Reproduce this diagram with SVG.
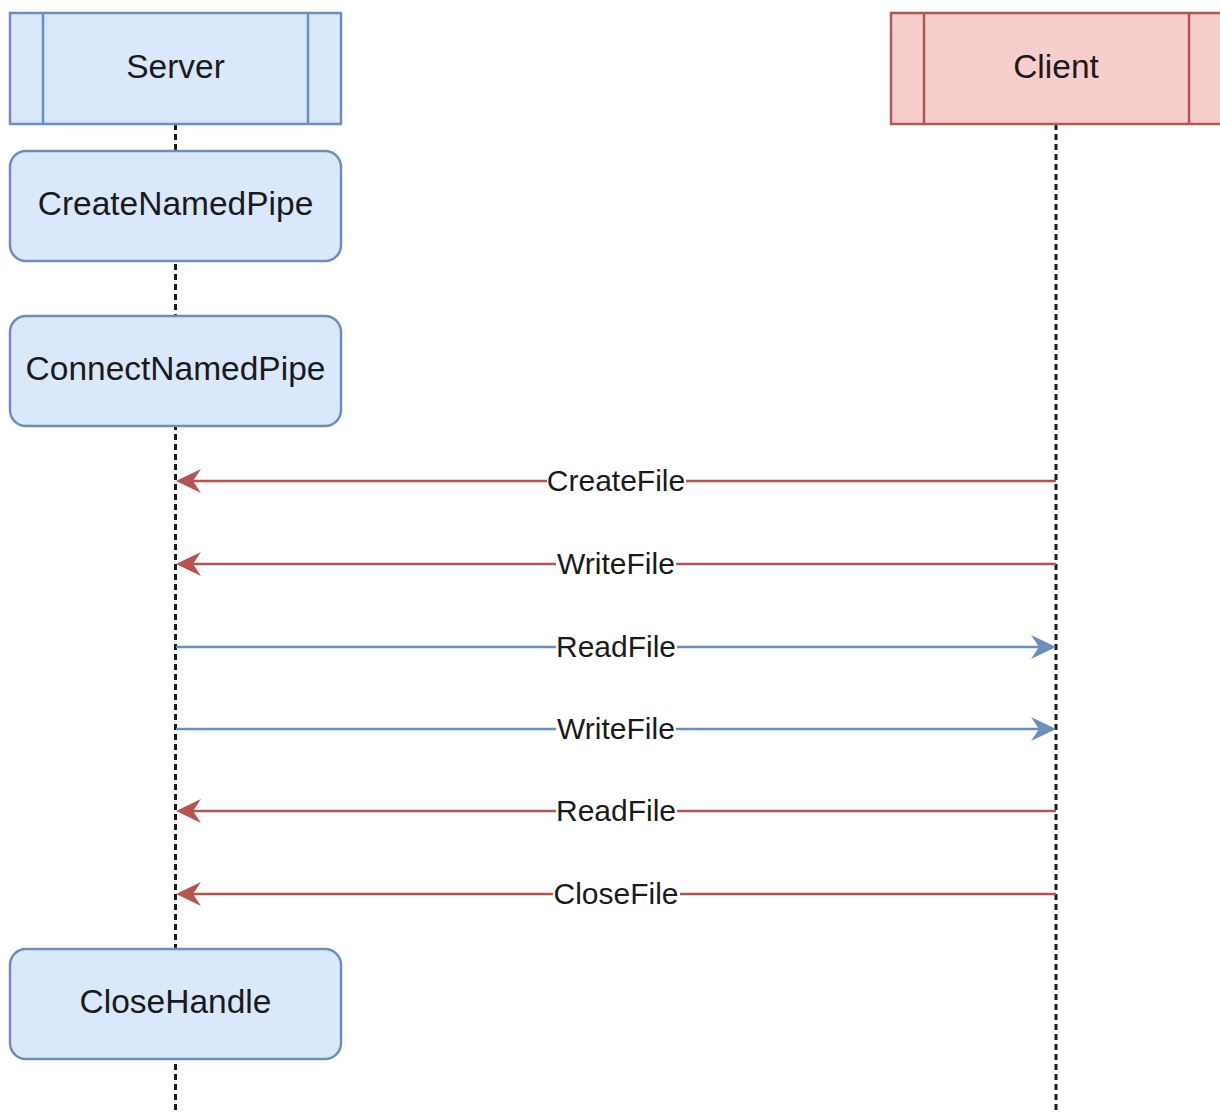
<svg xmlns="http://www.w3.org/2000/svg" width="1220" height="1112" viewBox="0 0 1220 1112">
<style>
.lane{stroke-width:2.5}
.blue{fill:#dae8fc;stroke:#6c8ebf}
.red{fill:#f8cecc;stroke:#b85450}
.life{stroke:#1a1a1a;stroke-width:3;stroke-dasharray:6 4;fill:none}
.node{font-family:"Liberation Sans",Arial,sans-serif;font-size:33.5px;fill:#1a1a1a;text-anchor:middle}
.lbl{font-family:"Liberation Sans",Arial,sans-serif;font-size:30px;fill:#1a1a1a;text-anchor:middle}
.msg-r{stroke:#b85450;stroke-width:2.5;fill:none}
.msg-b{stroke:#6c8ebf;stroke-width:2.5;fill:none}
.head-r{fill:#b85450}
.head-b{fill:#6c8ebf}
.bg{fill:#ffffff}
</style>
<rect width="1220" height="1112" fill="#ffffff"/>
<g id="lifelines">
<line class="life" x1="175.5" y1="124" x2="175.5" y2="1112"/>
<line class="life" x1="1056" y1="124" x2="1056" y2="1112"/>
</g>
<g id="server">
<rect class="blue lane" x="10" y="13" width="331" height="111"/>
<line class="blue lane" x1="43" y1="13" x2="43" y2="124"/>
<line class="blue lane" x1="308" y1="13" x2="308" y2="124"/>
<text class="node" x="175.5" y="78">Server</text>
</g>
<g id="client">
<rect class="red lane" x="891" y="13" width="331" height="111"/>
<line class="red lane" x1="924" y1="13" x2="924" y2="124"/>
<line class="red lane" x1="1189" y1="13" x2="1189" y2="124"/>
<text class="node" x="1056" y="78">Client</text>
</g>
<g id="createNamedPipe">
<rect class="blue lane" x="10" y="151" width="331" height="110" rx="16"/>
<text class="node" x="175.5" y="215">CreateNamedPipe</text>
</g>
<g id="connectNamedPipe">
<rect class="blue lane" x="10" y="316" width="331" height="110" rx="16"/>
<text class="node" x="175.5" y="380">ConnectNamedPipe</text>
</g>
<g id="closeHandle">
<rect class="blue lane" x="10" y="949" width="331" height="110" rx="16"/>
<text class="node" x="175.5" y="1013">CloseHandle</text>
</g>
<g id="connectors">
<line class="msg-r" x1="1056" y1="481" x2="190" y2="481"/>
<path class="head-r" d="M176,481 L201,469 L193,481 L201,493 Z"/>
<line class="msg-r" x1="1056" y1="564" x2="190" y2="564"/>
<path class="head-r" d="M176,564 L201,552 L193,564 L201,576 Z"/>
<line class="msg-b" x1="176" y1="647" x2="1042" y2="647"/>
<path class="head-b" d="M1056,647 L1031,635 L1039,647 L1031,659 Z"/>
<line class="msg-b" x1="176" y1="729" x2="1042" y2="729"/>
<path class="head-b" d="M1056,729 L1031,717 L1039,729 L1031,741 Z"/>
<line class="msg-r" x1="1056" y1="811" x2="190" y2="811"/>
<path class="head-r" d="M176,811 L201,799 L193,811 L201,823 Z"/>
<line class="msg-r" x1="1056" y1="894" x2="190" y2="894"/>
<path class="head-r" d="M176,894 L201,882 L193,894 L201,906 Z"/>
<g id="labels">
<rect class="bg" x="547" y="466" width="139" height="30"/>
<text class="lbl" x="616" y="491">CreateFile</text>
<rect class="bg" x="556" y="549" width="120" height="30"/>
<text class="lbl" x="616" y="574">WriteFile</text>
<rect class="bg" x="556" y="632" width="121" height="30"/>
<text class="lbl" x="616" y="657">ReadFile</text>
<rect class="bg" x="556" y="714" width="120" height="30"/>
<text class="lbl" x="616" y="739">WriteFile</text>
<rect class="bg" x="556" y="796" width="121" height="30"/>
<text class="lbl" x="616" y="821">ReadFile</text>
<rect class="bg" x="553" y="879" width="127" height="30"/>
<text class="lbl" x="616" y="904">CloseFile</text>
</g>
</g>
</svg>
